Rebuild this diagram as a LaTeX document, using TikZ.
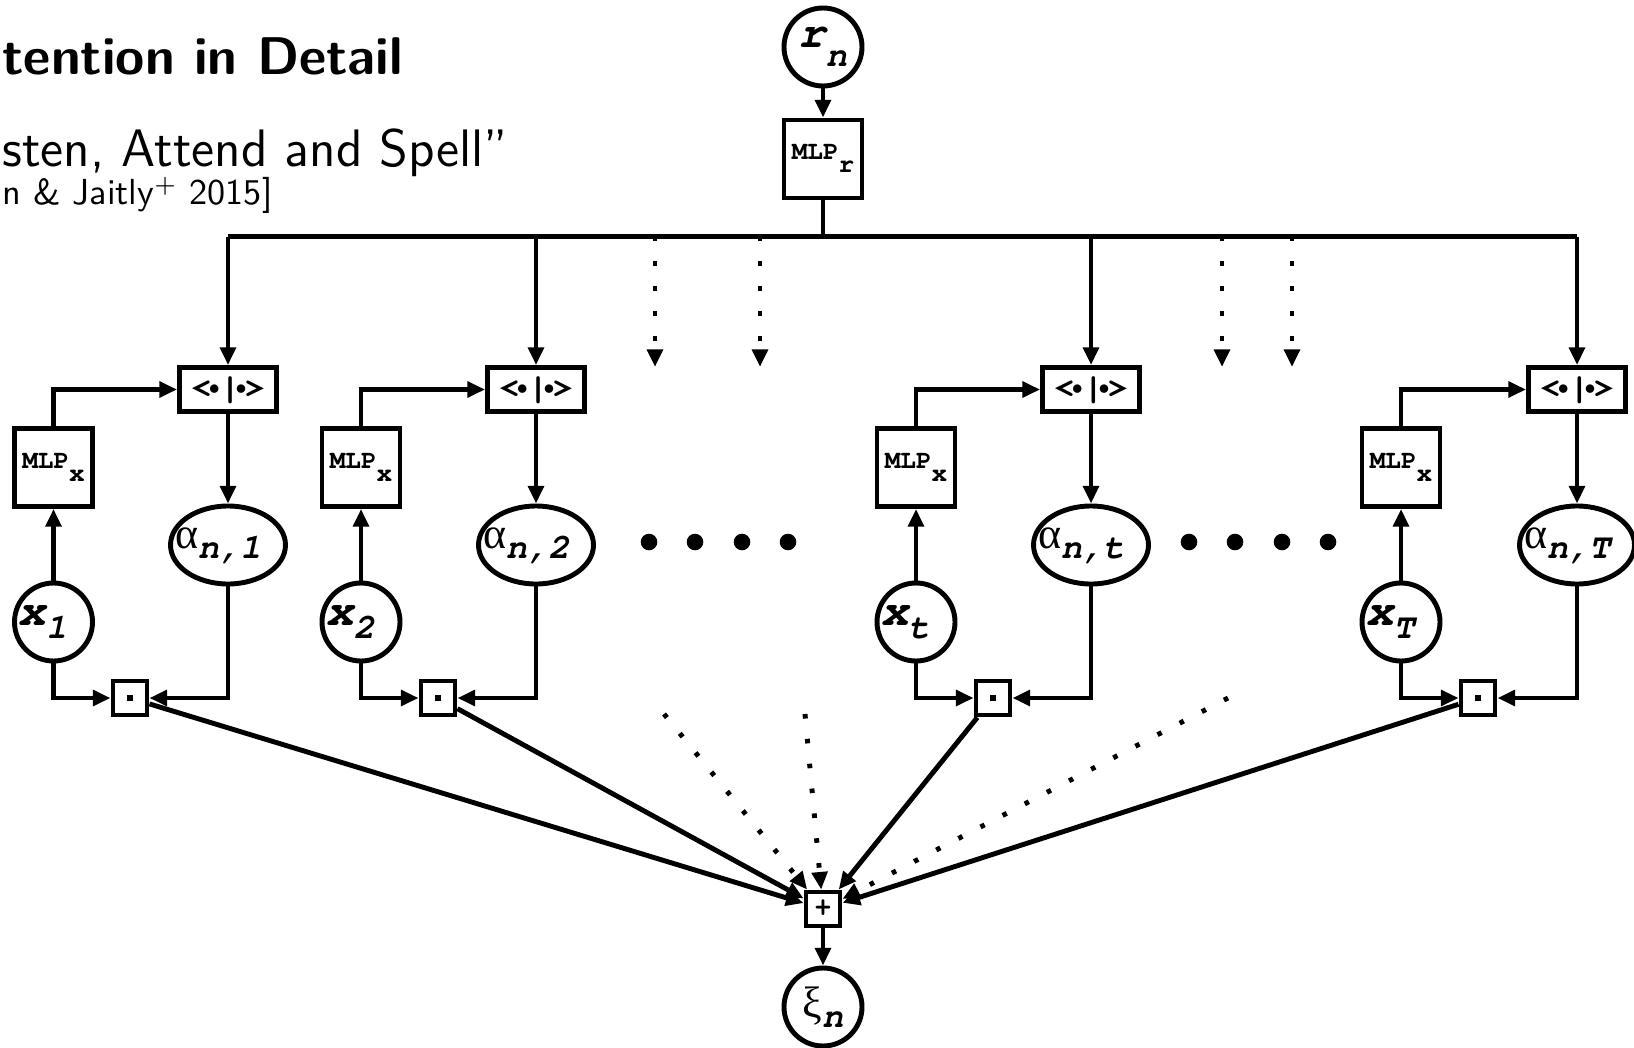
\documentclass[tikz,border=0pt]{standalone}
\usepackage[T1]{fontenc}
\usepackage{fontspec}
\newfontfamily\symb{Liberation Serif}
\usetikzlibrary{arrows.meta}
\usetikzlibrary{shapes.geometric}

% Courier for the labels, lowered subscript, label pushed left in its shape
\newcommand{\cour}{\fontencoding{T1}\fontfamily{pcr}\selectfont}
\newcommand{\lo}[2]{\raisebox{-#1}{#2}}
\newcommand{\lft}[2]{\makebox[0pt][l]{\hspace*{-#1}#2}}
\newcommand{\bul}{\raisebox{1.5pt}{$\scriptscriptstyle\bullet$}}
\newcommand{\mlp}[1]{{\cour\bfseries\fontsize{7.4}{7}\selectfont MLP\lo{3.6pt}{#1}}}
\newcommand{\xin}[1]{\lft{0.35cm}{\cour\bfseries\slshape\fontsize{13}{12}\selectfont x\lo{3.8pt}{\fontsize{10}{9}\selectfont #1}}}
\newcommand{\alw}[1]{\lft{0.53cm}{\symb\fontsize{12.5}{12}\selectfont α\lo{2.8pt}{\cour\bfseries\slshape\fontsize{10}{9}\selectfont n,#1}}}
\newcommand{\ipr}{{\cour\bfseries\fontsize{10}{8}\selectfont <\kern-1.1pt\bul\kern-0.3pt|\kern-1.8pt\bul\kern-0.9pt>}}

\begin{document}
\begin{tikzpicture}[x=1cm,y=1cm,line width=1.4pt,
  >={Triangle[length=5pt,width=4.4pt]},
  var/.style={circle,draw,minimum size=0.78cm,inner sep=0pt},
  mlpbox/.style={draw,minimum width=0.78cm,minimum height=0.78cm,inner sep=0pt},
  ipbox/.style={draw,minimum width=0.97cm,minimum height=0.44cm,inner sep=0pt},
  weight/.style={ellipse,draw,minimum width=1.15cm,minimum height=0.78cm,inner sep=0pt},
  opbox/.style={draw,minimum size=0.34cm,inner sep=0pt},
  dotline/.style={dash pattern=on 1.3pt off 5.8pt}]
\useasboundingbox (0,0) rectangle (16.34,10.47);

% heading
\node[anchor=base west,inner sep=0pt] (title) at (0,9.72) {\sffamily\bfseries\fontsize{15.1}{18}\selectfont tention in Detail};
\node[anchor=base west,inner sep=0pt] (paper) at (0,8.80) {\sffamily\fontsize{15}{18}\selectfont sten, Attend and Spell''};
\node[anchor=base west,inner sep=0pt] (cite) at (0,8.42) {\sffamily\fontsize{10.3}{12}\selectfont n \& Jaitly$^+$ 2015]};

% query
\node[var] (rn) at (8.23,10.00) {\cour\bfseries\slshape\fontsize{13}{12}\selectfont r\lo{5.5pt}{\fontsize{10}{9}\selectfont n}};
\node[mlpbox] (mlpr) at (8.23,8.88) {\mlp{r}};
\coordinate (bus) at (8.23,8.105);

% time frames 1, 2, t, T
\node[ipbox] (ip1) at (2.28,6.575) {\ipr};
\node[mlpbox] (mlp1) at (0.535,5.795) {\mlp{x}};
\node[weight] (a1) at (2.28,5.02) {\alw{1}};
\node[var] (x1) at (0.535,4.25) {\xin{1}};
\node[opbox] (m1) at (1.30,3.49) {\rule{1.9pt}{1.9pt}};

\node[ipbox] (ip2) at (5.36,6.575) {\ipr};
\node[mlpbox] (mlp2) at (3.61,5.795) {\mlp{x}};
\node[weight] (a2) at (5.36,5.02) {\alw{2}};
\node[var] (x2) at (3.61,4.25) {\xin{2}};
\node[opbox] (m2) at (4.38,3.49) {\rule{1.9pt}{1.9pt}};

\node[ipbox] (ip3) at (10.91,6.575) {\ipr};
\node[mlpbox] (mlp3) at (9.16,5.795) {\mlp{x}};
\node[weight] (a3) at (10.91,5.02) {\alw{t}};
\node[var] (x3) at (9.16,4.25) {\xin{t}};
\node[opbox] (m3) at (9.93,3.49) {\rule{1.9pt}{1.9pt}};

\node[ipbox] (ip4) at (15.77,6.575) {\ipr};
\node[mlpbox] (mlp4) at (14.01,5.795) {\mlp{x}};
\node[weight] (a4) at (15.77,5.02) {\alw{T}};
\node[var] (x4) at (14.01,4.25) {\xin{T}};
\node[opbox] (m4) at (14.78,3.49) {\rule{1.9pt}{1.9pt}};

% sum and context
\node[opbox] (sum) at (8.23,1.38) {\cour\bfseries\fontsize{8}{7}\selectfont +};
\node[var] (xi) at (8.23,0.40) {\symb\fontsize{12.5}{12}\selectfont ξ\lo{2.8pt}{\cour\bfseries\slshape\fontsize{10}{9}\selectfont n}};

% query to all frames
\draw[->] (rn) -- (mlpr);
\draw (mlpr) -- (bus);
\draw (ip1.north |- bus) -- (ip4.north |- bus);
\draw[->] (ip1.north |- bus) -- (ip1);
\draw[->] (ip2.north |- bus) -- (ip2);
\draw[->] (ip3.north |- bus) -- (ip3);
\draw[->] (ip4.north |- bus) -- (ip4);
\coordinate (q1) at (6.55,6.80);
\coordinate (q2) at (7.60,6.80);
\coordinate (q3) at (12.22,6.80);
\coordinate (q4) at (12.92,6.80);
\draw[->,dotline] (q1 |- bus) -- (q1);
\draw[->,dotline] (q2 |- bus) -- (q2);
\draw[->,dotline] (q3 |- bus) -- (q3);
\draw[->,dotline] (q4 |- bus) -- (q4);

% inside each frame
\draw[->] (x1) -- (mlp1);
\draw[->] (mlp1) |- (ip1);
\draw[->] (ip1) -- (a1);
\draw[->] (x1) |- (m1);
\draw[->] (a1) |- (m1);
\draw[->] (x2) -- (mlp2);
\draw[->] (mlp2) |- (ip2);
\draw[->] (ip2) -- (a2);
\draw[->] (x2) |- (m2);
\draw[->] (a2) |- (m2);
\draw[->] (x3) -- (mlp3);
\draw[->] (mlp3) |- (ip3);
\draw[->] (ip3) -- (a3);
\draw[->] (x3) |- (m3);
\draw[->] (a3) |- (m3);
\draw[->] (x4) -- (mlp4);
\draw[->] (mlp4) |- (ip4);
\draw[->] (ip4) -- (a4);
\draw[->] (x4) |- (m4);
\draw[->] (a4) |- (m4);

% skipped frames
\fill (6.49,5.05) circle (0.083) (6.95,5.05) circle (0.083) (7.42,5.05) circle (0.083) (7.88,5.05) circle (0.083);
\fill (11.89,5.05) circle (0.083) (12.35,5.05) circle (0.083) (12.82,5.05) circle (0.083) (13.28,5.05) circle (0.083);

% weighted sum
\draw[->] (m1) -- (sum);
\draw[->] (m2) -- (sum);
\draw[->] (m3) -- (sum);
\draw[->] (m4) -- (sum);
\coordinate (s1) at (6.64,3.33);
\coordinate (s2) at (8.05,3.33);
\coordinate (s3) at (12.28,3.49);
\draw[->,dotline] (s1) -- (sum);
\draw[->,dotline] (s2) -- (sum);
\draw[->,dotline] (s3) -- (sum);
\draw[->] (sum) -- (xi);
\end{tikzpicture}
\end{document}
